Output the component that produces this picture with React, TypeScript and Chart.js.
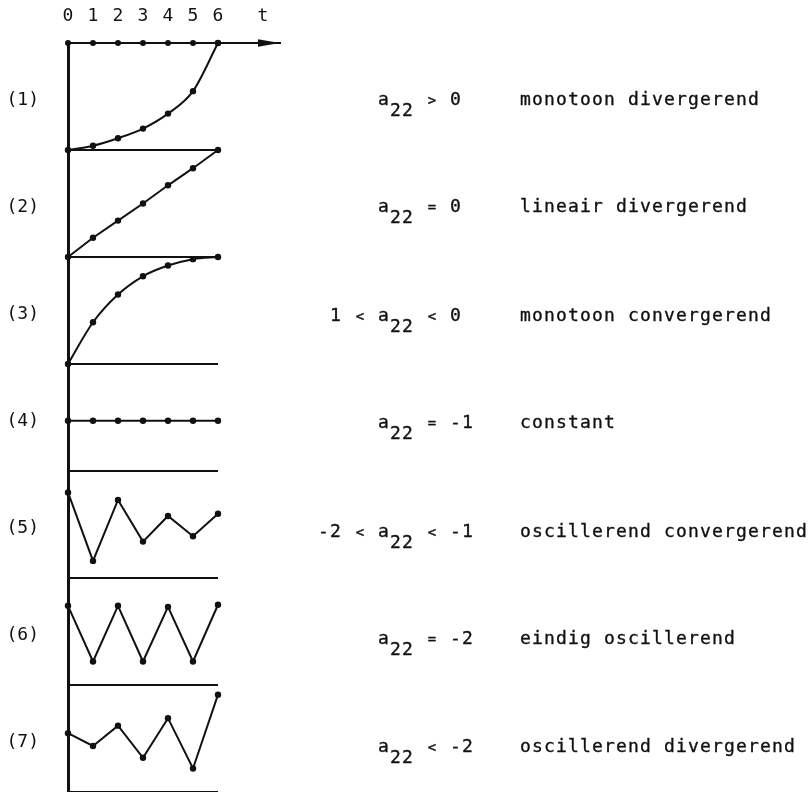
import React, { useEffect, useRef } from 'react';
import { Chart, registerables } from 'chart.js';

Chart.register(...registerables);

// ---- data ----
const timeSteps = [0, 1, 2, 3, 4, 5, 6];
const axisTickLabel = 't';
const axisTickAt = 7.8;
const panelLabels = ['(1)', '(2)', '(3)', '(4)', '(5)', '(6)', '(7)'];

// values per panel, in panel units (0 = panel baseline, 10 = panel top)
const panel1 = [0, 0.4, 1.1, 2.0, 3.4, 5.5, 10];
const panel2 = [0, 1.8, 3.4, 5.0, 6.7, 8.3, 10];
const panel3 = [0, 3.9, 6.5, 8.2, 9.2, 9.8, 10];
const panel4 = [4.7, 4.7, 4.7, 4.7, 4.7, 4.7, 4.7];
const panel5 = [8.0, 1.6, 7.3, 3.4, 5.8, 3.9, 6.0];
const panel6 = [7.4, 2.2, 7.4, 2.2, 7.3, 2.2, 7.5];
const panel7 = [5.5, 4.3, 6.2, 3.2, 6.9, 2.2, 9.1];
const axisDots = [10, 10, 10, 10, 10, 10, 10];
const baselineValue = 0;
const panelSpan = 10;
const smoothPanels = [true, false, true, false, false, false, false];

const relLeft = ['', '', '1 < ', '', '-2 < ', '', ''];
const relRight = [' > 0', ' = 0', ' < 0', ' = -1', ' < -1', ' = -2', ' < -2'];
const descriptions = [
  'monotoon divergerend',
  'lineair divergerend',
  'monotoon convergerend',
  'constant',
  'oscillerend convergerend',
  'eindig oscillerend',
  'oscillerend divergerend',
];

// ---- layout / style ----
const INK = '#111';
const MONO = '"DejaVu Sans Mono", "Liberation Mono", monospace';
const rowCenters = [98.5, 206, 314.5, 422, 531, 637.5, 745.5];
const LABEL_LEVEL = 4.6;

const series = [panel1, panel2, panel3, panel4, panel5, panel6, panel7];
const nPanels = series.length;
const panelBase = (i: number) => (nPanels - 1 - i) * panelSpan;

function Expr({ text }: { text: string }) {
  return (
    <>
      {text.split('').map((ch, i) =>
        '<>='.includes(ch) ? (
          <span
            key={i}
            style={{ display: 'inline-block', width: 12, textAlign: 'center', fontSize: 14, letterSpacing: 0 }}
          >
            {ch}
          </span>
        ) : (
          <span key={i}>{ch}</span>
        )
      )}
    </>
  );
}

export default function App() {
  const canvasRef = useRef<HTMLCanvasElement | null>(null);

  useEffect(() => {
    if (!canvasRef.current) return;
    const datasets: any[] = [];
    series.forEach((vals, i) => {
      const base = panelBase(i);
      datasets.push({
        data: [
          { x: timeSteps[0], y: base + baselineValue },
          { x: timeSteps[timeSteps.length - 1], y: base + baselineValue },
        ],
        borderColor: INK,
        borderWidth: 2,
        pointRadius: 0,
        clip: false,
      });
      datasets.push({
        data: timeSteps.map((t, j) => ({ x: t, y: base + vals[j] })),
        borderColor: INK,
        borderWidth: 2,
        pointRadius: 3.2,
        pointBackgroundColor: INK,
        pointBorderWidth: 0,
        tension: smoothPanels[i] ? 0.4 : 0,
        cubicInterpolationMode: smoothPanels[i] ? 'monotone' : 'default',
        clip: false,
      });
    });
    datasets.push({
      data: timeSteps.map((t, j) => ({ x: t, y: panelBase(0) + axisDots[j] })),
      showLine: false,
      pointRadius: 3,
      pointBackgroundColor: INK,
      pointBorderWidth: 0,
      clip: false,
    });

    const labelTicks = panelLabels.map((_, i) => panelBase(i) + LABEL_LEVEL);

    const arrowPlugin = {
      id: 'axisArrow',
      afterDraw(chart: any) {
        const { ctx, chartArea } = chart;
        const x = chartArea.right;
        const y = chartArea.top;
        ctx.save();
        ctx.fillStyle = INK;
        ctx.beginPath();
        ctx.moveTo(x, y);
        ctx.lineTo(x - 22, y - 3.8);
        ctx.lineTo(x - 22, y + 3.8);
        ctx.closePath();
        ctx.fill();
        ctx.restore();
      },
    };

    const chart = new Chart(canvasRef.current, {
      type: 'line',
      data: { datasets },
      options: {
        animation: false,
        responsive: true,
        maintainAspectRatio: false,
        events: [],
        layout: { autoPadding: false, padding: { left: 8, right: 531, top: 0, bottom: 0 } },
        plugins: { legend: { display: false }, tooltip: { enabled: false } },
        scales: {
          x: {
            type: 'linear',
            position: 'top',
            min: 0,
            max: 8.48,
            grid: { display: false, drawTicks: false },
            border: { display: true, color: INK, width: 2 },
            ticks: {
              autoSkip: false,
              maxRotation: 0,
              padding: 16,
              color: INK,
              font: { family: MONO, size: 18 },
              callback: (v: any) => (v === axisTickAt ? axisTickLabel : String(v)),
            },
            afterBuildTicks: (s: any) => {
              s.ticks = [...timeSteps, axisTickAt].map((v) => ({ value: v }));
            },
            afterFit: (s: any) => {
              s.height = 43;
              s.paddingLeft = 0;
              s.paddingRight = 0;
            },
          },
          y: {
            type: 'linear',
            position: 'left',
            min: 0,
            max: nPanels * panelSpan,
            grid: { display: false, drawTicks: false },
            border: { display: true, color: INK, width: 3 },
            ticks: {
              padding: 29,
              color: INK,
              font: { family: MONO, size: 18 },
              callback: (v: any) => {
                const idx = labelTicks.findIndex((t) => Math.abs(t - v) < 1e-6);
                return idx >= 0 ? panelLabels[idx] : '';
              },
            },
            afterBuildTicks: (s: any) => {
              s.ticks = labelTicks.map((v) => ({ value: v }));
            },
            afterFit: (s: any) => {
              s.width = 60;
              s.paddingTop = 0;
              s.paddingBottom = 0;
            },
          },
        },
      } as any,
      plugins: [arrowPlugin],
    });
    return () => chart.destroy();
  }, []);

  const textStyle: React.CSSProperties = {
    position: 'absolute',
    fontFamily: MONO,
    fontSize: 18,
    lineHeight: '20px',
    letterSpacing: '1.16px',
    color: INK,
    whiteSpace: 'pre',
    WebkitTextStroke: '0.35px #111',
  };

  return (
    <div style={{ position: 'fixed', left: 0, top: 0, width: 811, height: 792, background: '#fff' }}>
      <div style={{ position: 'absolute', left: 0, top: 0, width: 811, height: 792 }}>
        <canvas ref={canvasRef} />
      </div>
      {descriptions.map((d, i) => (
        <React.Fragment key={i}>
          <div style={{ ...textStyle, left: 378 - 12 * relLeft[i].length, top: rowCenters[i] - 9.7 }}>
            <Expr text={relLeft[i]} />
            a<span style={{ position: 'relative', top: 11 }}>22</span>
            <Expr text={relRight[i]} />
          </div>
          <div style={{ ...textStyle, left: 520, top: rowCenters[i] - 9.7 }}>{d}</div>
        </React.Fragment>
      ))}
    </div>
  );
}
